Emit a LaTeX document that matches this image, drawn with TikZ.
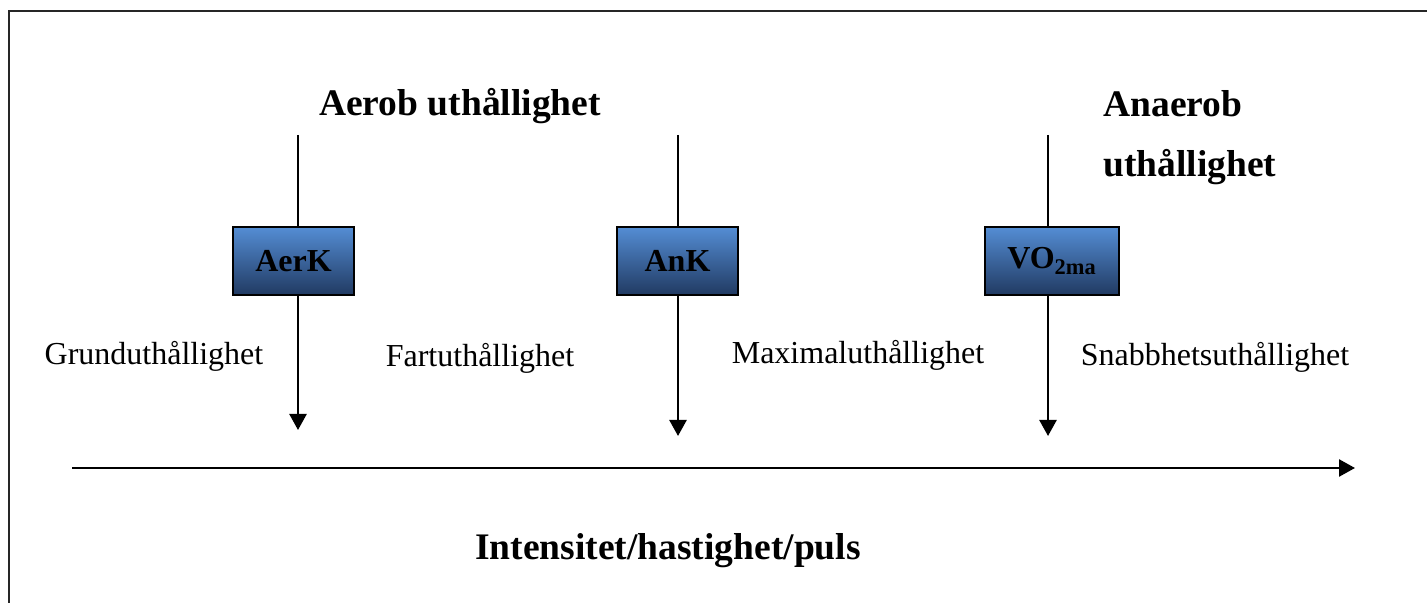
\documentclass[tikz,border=0pt]{standalone}
\usepackage{fontspec}
\setmainfont{Liberation Serif}
\usetikzlibrary{arrows.meta}
\definecolor{boxtop}{RGB}{84,141,212}
\definecolor{boxbot}{RGB}{33,58,98}
\tikzset{
  lbox/.style={draw=black, line width=1pt, top color=boxtop, bottom color=boxbot,
    minimum width=60.5pt, minimum height=34pt, inner sep=0pt,
    font=\fontsize{16}{18}\selectfont\bfseries},
  vline/.style={line width=1.2pt},
  varrow/.style={line width=1.2pt, -{Triangle[width=8.5pt,length=8pt]}},
  zonelbl/.style={font=\fontsize{16}{19}\selectfont, inner sep=0pt},
  bigtxt/.style={font=\fontsize{18.75}{22}\selectfont\bfseries, inner sep=0pt},
  frame/.style={line width=1.1pt, draw=black!85}
}
\begin{document}
\begin{tikzpicture}[x=0.5pt,y=-0.5pt]
\useasboundingbox (0,0) rectangle (1427,603);
% frame (left and top edges)
\coordinate (fa) at (9,603);
\coordinate (fb) at (9,11);
\coordinate (fc) at (1427,11);
\draw[frame] (fa) -- (fb) -- (fc);
% titles
\node[bigtxt] (aerob) at (460,106) {Aerob uthållighet};
\node[bigtxt, anchor=west] (anaerob1) at (1103,104) {Anaerob};
\node[bigtxt, anchor=west] (anaerob2) at (1103,167) {uthållighet};
% boxes
\node[lbox, minimum width=60.5pt] (aerk) at (293.5,261) {AerK};
\node[lbox, minimum width=60.5pt] (ank) at (677.5,261) {AnK};
\node[lbox, minimum width=67pt] (vo) at (1052,261) {VO\textsubscript{2ma}};
% vertical line endpoints
\coordinate (t1) at (298,135);
\coordinate (t2) at (678,135);
\coordinate (t3) at (1048,135);
\coordinate (e1) at (298,430);
\coordinate (e2) at (678,436);
\coordinate (e3) at (1048,436);
\draw[vline] (t1) -- (t1 |- aerk.north);
\draw[vline] (t2) -- (t2 |- ank.north);
\draw[vline] (t3) -- (t3 |- vo.north);
\draw[varrow] (e1 |- aerk.south) -- (e1);
\draw[varrow] (e2 |- ank.south) -- (e2);
\draw[varrow] (e3 |- vo.south) -- (e3);
% zone labels
\node[zonelbl] (grund) at (154,356) {Grunduthållighet};
\node[zonelbl] (fart) at (480,358) {Fartuthållighet};
\node[zonelbl] (maxi) at (858,355) {Maximaluthållighet};
\node[zonelbl] (snabb) at (1215,357) {Snabbhetsuthållighet};
% axis
\coordinate (ax0) at (72,468);
\coordinate (ax1) at (1355,468);
\draw[varrow] (ax0) -- (ax1);
\node[bigtxt] (axlbl) at (668,551) {Intensitet/hastighet/puls};
\end{tikzpicture}
\end{document}
